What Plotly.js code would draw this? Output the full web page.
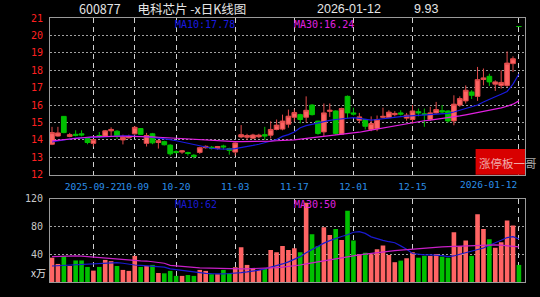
<!DOCTYPE html>
<html><head><meta charset="utf-8">
<script src="https://cdn.plot.ly/plotly-3.0.1.min.js"></script>
<style>html,body{margin:0;padding:0;background:#000;}#chart{width:540px;height:297px;}</style>
</head><body><div id="chart"></div>
<script>
const dates = [
 '2025-09-11','2025-09-12','2025-09-15','2025-09-16','2025-09-17','2025-09-18','2025-09-19','2025-09-22','2025-09-23','2025-09-24',
 '2025-09-25','2025-09-26','2025-09-29','2025-09-30','2025-10-09','2025-10-10','2025-10-13','2025-10-14','2025-10-15','2025-10-16',
 '2025-10-17','2025-10-20','2025-10-21','2025-10-22','2025-10-23','2025-10-24','2025-10-27','2025-10-28','2025-10-29','2025-10-30',
 '2025-10-31','2025-11-03','2025-11-04','2025-11-05','2025-11-06','2025-11-07','2025-11-10','2025-11-11','2025-11-12','2025-11-13',
 '2025-11-14','2025-11-17','2025-11-18','2025-11-19','2025-11-20','2025-11-21','2025-11-24','2025-11-25','2025-11-26','2025-11-27',
 '2025-11-28','2025-12-01','2025-12-02','2025-12-03','2025-12-04','2025-12-05','2025-12-08','2025-12-09','2025-12-10','2025-12-11',
 '2025-12-12','2025-12-15','2025-12-16','2025-12-17','2025-12-18','2025-12-19','2025-12-22','2025-12-23','2025-12-24','2025-12-25',
 '2025-12-26','2025-12-29','2025-12-30','2025-12-31','2026-01-05','2026-01-06','2026-01-07','2026-01-08','2026-01-09','2026-01-12'];

const open = [13.75,14.22,15.35,14.20,14.32,14.35,14.08,13.80,14.25,14.22,
 14.52,14.50,14.00,14.12,14.35,14.65,13.80,14.35,13.85,13.90,
 13.70,13.33,13.30,13.27,13.12,13.28,13.55,13.58,13.50,13.65,
 13.50,13.30,14.17,14.15,14.10,14.18,14.30,14.27,14.60,14.62,
 14.90,15.30,15.45,15.30,16.00,15.08,14.46,15.64,15.66,14.33,
 16.50,15.55,15.13,15.17,14.60,14.65,15.30,15.28,15.45,15.55,
 15.25,15.17,15.62,15.50,15.17,15.55,15.68,15.66,15.09,16.00,
 16.24,16.75,16.50,17.47,17.65,17.20,17.13,17.13,18.38,20.51];
const high = [14.75,14.75,15.37,14.40,14.55,14.55,14.12,14.05,14.45,14.57,
 14.72,14.55,14.30,14.30,14.80,14.66,14.40,14.40,14.00,13.95,
 13.75,13.40,13.42,13.32,13.18,13.60,13.68,13.65,13.65,13.72,
 13.55,13.85,14.85,14.35,14.35,14.35,14.75,15.07,15.17,15.45,
 15.74,15.75,15.50,16.50,16.05,15.10,16.09,16.09,15.70,15.85,
 16.55,15.85,15.55,15.20,15.35,15.40,15.85,15.70,15.65,15.70,
 15.55,16.00,15.80,15.80,15.90,16.18,16.00,15.70,16.56,16.50,
 17.13,16.85,18.19,18.10,17.80,17.42,18.00,19.08,18.80,20.51];
const low = [13.70,14.18,14.38,14.15,14.20,14.20,13.75,13.62,14.10,14.20,
 14.20,14.05,13.74,14.08,14.30,14.30,13.62,13.75,13.50,13.68,
 13.10,13.20,13.20,13.10,12.93,13.20,13.50,13.45,13.45,13.45,
 13.15,13.10,14.10,14.00,14.05,14.10,14.00,14.08,14.55,14.55,
 14.70,15.05,14.95,15.00,15.40,14.30,14.21,15.32,14.30,14.30,
 15.25,15.40,14.95,14.60,14.50,14.50,15.25,15.25,15.35,15.40,
 15.10,14.94,15.35,14.75,15.10,15.50,15.50,15.00,14.84,15.90,
 16.09,16.35,16.24,17.13,17.10,16.81,16.95,17.04,17.90,20.51];
const close = [14.42,14.40,14.42,14.30,14.26,14.28,13.85,14.02,14.20,14.52,
 14.60,14.22,14.15,14.20,14.72,14.32,14.25,13.83,13.95,13.72,
 13.20,13.28,13.37,13.22,13.05,13.55,13.63,13.52,13.62,13.60,
 13.40,13.82,14.30,14.25,14.28,14.27,14.22,14.60,14.85,15.08,
 15.36,15.57,15.17,15.70,15.45,14.37,15.55,15.70,14.37,15.80,
 15.55,15.48,15.32,14.78,14.94,15.17,15.35,15.59,15.52,15.48,
 15.42,15.66,15.55,15.45,15.55,15.74,15.60,15.09,16.05,16.37,
 16.85,16.56,17.46,17.56,17.33,17.33,17.30,18.41,18.66,20.51];
const volume = [35,26,37,23,31,31,21.7,16.4,21.7,31.8,
 30,23,17.4,16,37.6,21.7,23,24.6,13,12.5,
 16,8.8,8.8,10,8.8,17.4,16,11.2,11.2,17.4,
 12.5,21.3,50,24.6,18.8,17.4,18.8,46,43,52,
 46,48.6,42.8,114,68.8,52,78.8,67.8,76.4,60.6,
 102.7,59.6,40.4,42.3,40,47,52.4,39,28.5,30.8,
 34.2,42.8,35,37.6,37.6,40.4,36.5,35,71.6,52,
 59.6,37.6,97.5,76.4,61.5,49.5,57.2,88.4,81.2,24.6];
const ma10 = [13.88,13.95,14.00,14.05,14.10,14.12,14.15,14.17,14.18,14.20,
 14.21,14.22,14.23,14.23,14.22,14.20,14.18,14.14,14.10,14.08,
 14.02,13.95,13.88,13.80,13.72,13.64,13.58,13.52,13.48,13.47,
 13.47,13.50,13.55,13.62,13.68,13.75,13.83,13.92,14.02,14.20,
 14.30,14.45,14.70,14.82,14.90,14.98,15.05,15.12,15.17,15.22,
 15.27,15.28,15.24,15.20,15.14,15.17,15.22,15.26,15.30,15.34,
 15.36,15.38,15.42,15.45,15.48,15.50,15.51,15.52,15.60,15.70,
 15.78,15.90,16.00,16.18,16.35,16.48,16.62,16.78,17.20,17.78];
const ma30 = [13.94,13.98,14.02,14.06,14.10,14.13,14.15,14.17,14.19,14.20,
 14.21,14.21,14.21,14.21,14.21,14.20,14.19,14.17,14.15,14.13,
 14.10,14.08,14.05,14.02,14.00,13.98,13.96,13.94,13.93,13.92,
 13.91,13.90,13.90,13.90,13.90,13.91,13.92,13.93,13.95,13.96,
 13.97,14.00,14.04,14.08,14.12,14.15,14.18,14.22,14.25,14.28,
 14.33,14.38,14.44,14.50,14.56,14.62,14.70,14.76,14.84,14.90,
 14.96,15.01,15.05,15.10,15.14,15.18,15.22,15.26,15.32,15.38,
 15.44,15.50,15.56,15.62,15.69,15.76,15.84,15.93,16.05,16.24];
const volMa10 = [23,23.5,24,24.5,25.5,26,26,26,26.5,27,
 27.5,28,27,25.5,24.5,24,23.5,23,22,21.5,
 19,17.8,17,16.2,14.5,13,12.5,12,11.7,11.8,
 12.2,12.6,13.5,14.5,15.5,17,19,21,23.5,26,
 29,33,36.5,42,47,51,56,59.5,63,65.5,
 68,71.6,72.5,70,65,62,60,58,56.5,52,
 47.2,41,39.5,39,39,39,38,36.5,37.5,40,
 42,44,46,49,53,56,60,64,65.3,62];
const volMa30 = [36.5,37,37.6,37.6,37.6,37.3,36.5,36,35,34.2,
 33.5,32.5,31.8,31,30.4,30.4,30.2,29.5,28,27,
 24,23,22.2,21.5,21,20.3,20,19.5,19.2,19,
 18.8,18.8,18.8,19,19.2,19.5,19.8,20.2,20.8,21.5,
 22.3,23,24.5,26,27.5,29.4,30.5,32,33.5,35,
 36.5,38,39,40,41.2,42.3,43.3,44.3,45.2,46,
 46.8,47.5,48.2,48.6,49.2,50,50.6,51,51.4,51.8,
 52.1,52.4,52.8,53.1,53.4,53.4,53,52.5,51.8,50.5];

const priceTicks = [12,13,14,15,16,17,18,19,20,21];
const volTicks = [40,80,120];
const tickDates = ['2025-09-22','2025-10-09','2025-10-20','2025-11-03','2025-11-17','2025-12-01','2025-12-15','2026-01-12'];
const tickLabels = ['2025-09-22','10-09','10-20','11-03','11-17','12-01','12-15','2026-01-12'];
const titleText = '600877\u00a0\u00a0\u00a0\u00a0\u00a0\u00a0电科芯片\u00a0-x日K线图';
const lastDate = '2026-01-12';
const lastChange = '9.93';
const ma10Label = 'MA10:17.78', ma30Label = 'MA30:16.24';
const vma10Label = 'MA10:62', vma30Label = 'MA30:50';
const volUnit = 'x万';
const badgeText = '涨停板一哥';

const RED = '#ff6464', RED_LINE = '#e04a4a', GREEN = '#00c000';
const idx = dates.map((d, i) => i);
const isUp = idx.map(i => close[i] > open[i]);
const pick = (arr, want) => idx.filter(i => isUp[i] === want).map(i => arr[i]);
const upX = idx.filter(i => isUp[i]);
const dnX = idx.filter(i => !isUp[i]);
const tickvals = tickDates.map(d => dates.indexOf(d));
const ticktext = tickLabels.map((t, k) => k === tickLabels.length - 1 ? '' : t);

function candle(xs, want, fill, line) {
  return {type: 'candlestick', x: xs, open: pick(open, want), high: pick(high, want),
    low: pick(low, want), close: pick(close, want), xaxis: 'x', yaxis: 'y',
    whiskerwidth: 0,
    increasing: {line: {color: line, width: 1}, fillcolor: fill},
    decreasing: {line: {color: line, width: 1}, fillcolor: fill},
    hoverinfo: 'skip'};
}

const traces = [
  {type: 'bar', x: idx, y: volume, xaxis: 'x2', yaxis: 'y2',
   marker: {color: idx.map(i => isUp[i] ? RED : GREEN), line: {width: 0}}, hoverinfo: 'skip'},
  {type: 'scatter', mode: 'lines', x: idx, y: volMa10, xaxis: 'x2', yaxis: 'y2',
   line: {color: '#1a1ad0', width: 1.2}, hoverinfo: 'skip'},
  {type: 'scatter', mode: 'lines', x: idx, y: volMa30, xaxis: 'x2', yaxis: 'y2',
   line: {color: '#c820c8', width: 1.2}, hoverinfo: 'skip'},
  candle(upX, true, RED, RED_LINE),
  candle(dnX, false, GREEN, GREEN),
  {type: 'scatter', mode: 'lines', x: idx, y: ma10, xaxis: 'x', yaxis: 'y',
   line: {color: '#1a1ae0', width: 1.2}, hoverinfo: 'skip'},
  {type: 'scatter', mode: 'lines', x: idx, y: ma30, xaxis: 'x', yaxis: 'y',
   line: {color: '#e020e0', width: 1.2}, hoverinfo: 'skip'}
];

const mono = 'DejaVu Sans Mono';
const sans = 'Liberation Sans';
const xRange = [-0.34, 80.03];
const gridX = {showgrid: true, gridcolor: '#d0d0d0', griddash: '5px,4px', gridwidth: 1};
const frame = {showline: true, mirror: true, linecolor: '#9a9a9a', linewidth: 1, zeroline: false, fixedrange: true};

const layout = {
  width: 540, height: 297,
  paper_bgcolor: '#000', plot_bgcolor: '#000',
  margin: {l: 50, r: 15, t: 18, b: 14.5, pad: 0},
  showlegend: false, hovermode: false, dragmode: false,
  boxmode: 'overlay', boxgap: 0.2, boxgroupgap: 0, bargap: 0.22,
  title: {text: titleText, xref: 'container', yref: 'container', x: 79/540, xanchor: 'left',
          y: 1 - 9.5/297, yanchor: 'middle',
          font: {family: 'Noto Sans CJK SC', size: 12.5, color: '#e6e6e6'}},
  xaxis: Object.assign({domain: [0, 1], anchor: 'y', range: xRange, tickmode: 'array',
    tickvals: tickvals, ticktext: ticktext, ticks: '', ticklabelstandoff: 3, tickangle: 0,
    tickfont: {family: mono, size: 9.5, color: '#2b8fe8'},
    rangeslider: {visible: false}}, gridX, frame),
  yaxis: Object.assign({domain: [0.4064, 1], anchor: 'x', range: [12, 21], tickmode: 'array',
    tickvals: priceTicks, ticks: '', ticklabelstandoff: 4,
    tickfont: {family: mono, size: 10, color: '#ff2020'},
    showgrid: true, gridcolor: '#a0a0a0', griddash: '2px,2px', gridwidth: 1}, frame),
  xaxis2: Object.assign({domain: [0, 1], anchor: 'y2', matches: 'x', range: xRange, tickmode: 'array',
    tickvals: tickvals, showticklabels: false, ticks: ''}, gridX, frame),
  yaxis2: Object.assign({domain: [0, 0.3157], anchor: 'x2', range: [0, 120], tickmode: 'array',
    tickvals: volTicks, ticks: '', ticklabelstandoff: 4,
    tickfont: {family: mono, size: 10, color: '#c8c8c8'},
    showgrid: true, gridcolor: '#a0a0a0', griddash: '2px,2px', gridwidth: 1}, frame),
  shapes: [
    {type: 'rect', xref: 'paper', yref: 'paper', x0: 0.896, x1: 1.0, y0: 0.4064, y1: 0.5036,
     fillcolor: '#d80000', line: {width: 0}, layer: 'above'}
  ],
  annotations: [
    {text: lastDate, xref: 'paper', yref: 'paper', x: (315-50)/475, y: (282.5-9)/264.5,
     xanchor: 'left', yanchor: 'middle', showarrow: false,
     font: {family: sans, size: 12.5, color: '#e6e6e6'}},
    {text: lastChange, xref: 'paper', yref: 'paper', x: (412-50)/475, y: (282.5-9)/264.5,
     xanchor: 'left', yanchor: 'middle', showarrow: false,
     font: {family: sans, size: 12.5, color: '#e6e6e6'}},
    {text: tickLabels[tickLabels.length - 1], xref: 'x', yref: 'paper', x: tickvals[tickvals.length - 1],
     y: (282.5-184.5)/264.5, xanchor: 'right', yanchor: 'middle', showarrow: false,
     font: {family: mono, size: 9.5, color: '#2b8fe8'}},
    {text: ma10Label, xref: 'paper', yref: 'paper', x: (173-50)/475, y: (282.5-24.5)/264.5,
     xanchor: 'left', yanchor: 'middle', showarrow: false, font: {family: mono, size: 10, color: '#1a1ae0'}},
    {text: ma30Label, xref: 'paper', yref: 'paper', x: (292-50)/475, y: (282.5-24.5)/264.5,
     xanchor: 'left', yanchor: 'middle', showarrow: false, font: {family: mono, size: 10, color: '#e020e0'}},
    {text: vma10Label, xref: 'paper', yref: 'paper', x: (173-50)/475, y: (282.5-205)/264.5,
     xanchor: 'left', yanchor: 'middle', showarrow: false, font: {family: mono, size: 10, color: '#1a1ad0'}},
    {text: vma30Label, xref: 'paper', yref: 'paper', x: (292-50)/475, y: (282.5-205)/264.5,
     xanchor: 'left', yanchor: 'middle', showarrow: false, font: {family: mono, size: 10, color: '#e020e0'}},
    {text: volUnit, xref: 'paper', yref: 'paper', x: (29-50)/475, y: (282.5-273)/264.5,
     xanchor: 'left', yanchor: 'middle', showarrow: false,
     font: {family: 'Noto Sans CJK SC', size: 10, color: '#e0e0e0'}},
    {text: badgeText, xref: 'paper', yref: 'paper', x: (477-50)/475, y: (282.5-163.5)/264.5,
     xanchor: 'left', yanchor: 'middle', showarrow: false,
     font: {family: 'Noto Sans CJK SC', size: 11.5, color: 'rgba(255,255,255,0.68)'}}
  ]
};

Plotly.newPlot('chart', traces, layout, {staticPlot: true, displayModeBar: false});
</script>
</body></html>
